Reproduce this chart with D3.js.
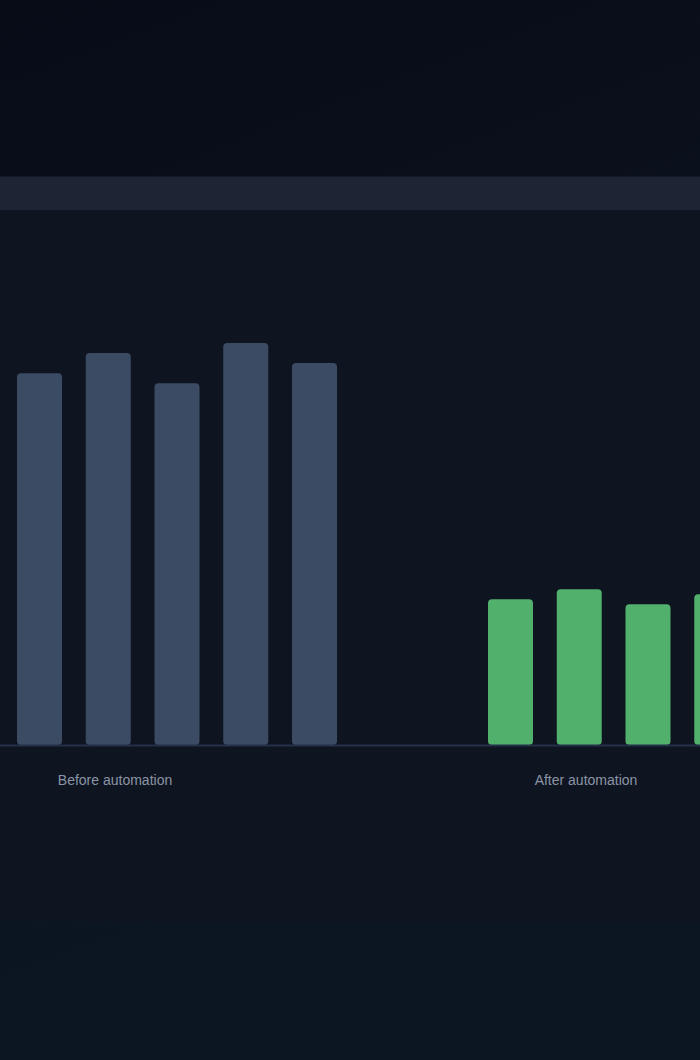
<!DOCTYPE html>
<html>
<head>
<meta charset="utf-8">
<script src="https://cdn.jsdelivr.net/npm/d3@7"></script>
<style>
  html, body { margin: 0; padding: 0; overflow: hidden; background: #0a101b; }
  svg { display: block; }
</style>
</head>
<body>
<svg id="chart" width="700" height="1060"></svg>
<script>
// ---- data ----
const groups = ["Before automation", "After automation"];
const runs = [0, 1, 2, 3, 4];
const beforeValues = [37, 39, 36, 40, 38];
const afterValues = [14.5, 15.5, 14, 15, 14.8];
const groupColors = ["#3b4b63", "#52b06d"];

const svg = d3.select("#chart");

// page background gradient
const defs = svg.append("defs");
const bg = defs.append("linearGradient").attr("id", "bg")
  .attr("x1", "0%").attr("y1", "0%").attr("x2", "25%").attr("y2", "100%");
bg.append("stop").attr("offset", "0%").attr("stop-color", "#070c17");
bg.append("stop").attr("offset", "40%").attr("stop-color", "#0a101c");
bg.append("stop").attr("offset", "100%").attr("stop-color", "#0c1623");
svg.append("rect").attr("width", 700).attr("height", 1060).attr("fill", "url(#bg)");

// card body and header band
svg.append("rect").attr("x", 0).attr("y", 176).attr("width", 700).attr("height", 746)
  .attr("fill", "#0f1520");
svg.append("rect").attr("x", 0).attr("y", 176).attr("width", 700).attr("height", 1)
  .attr("fill", "#131a27");
svg.append("rect").attr("x", 0).attr("y", 177).attr("width", 700).attr("height", 33)
  .attr("fill", "#1e2433");

// scales
const baseY = 745;
const y = d3.scaleLinear().domain([0, 40]).range([baseY, 343]);
const x0 = d3.scaleBand().domain(groups).range([17, 17 + 471 * 2]).paddingInner(0);
const x1 = d3.scaleBand().domain(runs).range([0, 320]).paddingInner(1 - 45 / 68.75).paddingOuter(0);

const series = [beforeValues, afterValues];

const g = svg.append("g");
groups.forEach((grp, gi) => {
  g.append("g")
    .attr("transform", `translate(${x0(grp)},0)`)
    .selectAll("rect")
    .data(series[gi])
    .join("rect")
    .attr("x", (d, i) => x1(runs[i]))
    .attr("y", d => y(d))
    .attr("width", x1.bandwidth())
    .attr("height", d => baseY - y(d))
    .attr("rx", 4).attr("ry", 4)
    .attr("fill", groupColors[gi]);
});

// baseline
svg.append("line")
  .attr("x1", 0).attr("x2", 700)
  .attr("y1", baseY + 0.5).attr("y2", baseY + 0.5)
  .attr("stroke", "#25304a").attr("stroke-width", 2);

// group labels
svg.append("g").selectAll("text")
  .data(groups)
  .join("text")
  .attr("x", d => x0(d) + 98)
  .attr("y", 785)
  .attr("text-anchor", "middle")
  .attr("font-family", "Liberation Sans, Arial, sans-serif")
  .attr("font-size", 14)
  .attr("fill", "#8a94a6")
  .text(d => d);
</script>
</body>
</html>
